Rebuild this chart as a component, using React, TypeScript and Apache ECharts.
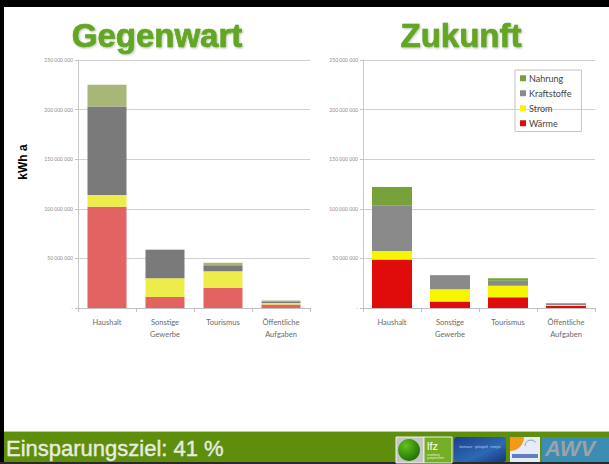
import React, { useEffect, useRef } from 'react';
import * as echarts from 'echarts';

// Categories and values (million kWh per year)
const categories = ['Haushalt', 'Sonstige\nGewerbe', 'Tourismus', 'Öffentliche\nAufgaben'];
const seriesNames = ['Wärme', 'Strom', 'Kraftstoffe', 'Nahrung'];
const legendOrder = ['Nahrung', 'Kraftstoffe', 'Strom', 'Wärme'];
const yMaxMio = 250;
const yStepMio = 50;

// Gegenwart
const nowWaerme = [102, 11, 20.5, 3.5];
const nowStrom = [12, 19, 16.5, 1.5];
const nowKraftstoffe = [89, 28.5, 6, 1];
const nowNahrung = [22, 0.5, 2.5, 1.5];

// Zukunft
const futWaerme = [49, 6.5, 10.8, 2];
const futStrom = [8.5, 12.5, 11.7, 1];
const futKraftstoffe = [45.5, 14, 5, 1];
const futNahrung = [19, 0.3, 2.4, 0.7];

const nowColors = ['#e36262', '#ecec4a', '#7a7a7a', '#a8b678'];
const futColors = ['#e00c0c', '#f6f600', '#8a8a8a', '#77a23a'];

const FONT = 'Lato, "Open Sans", sans-serif';

function fmtTick(v: number) {
  return v === 0 ? '-' : `${v} 000 000`;
}

export default function App() {
  const ref = useRef<HTMLDivElement>(null);
  useEffect(() => {
    document.body.style.margin = '0';
    const chart = echarts.init(ref.current!, null, { renderer: 'svg' });

    const yAxisBase = (gi: number) => ({
      type: 'value',
      gridIndex: gi,
      min: 0,
      max: yMaxMio,
      interval: yStepMio,
      axisLine: { show: true, lineStyle: { color: '#c8c8c8', width: 1 } },
      axisTick: { show: true, length: 3, lineStyle: { color: '#c0c0c0' } },
      axisLabel: { fontSize: 5, color: '#8c8c8c', margin: 5, fontFamily: FONT, formatter: fmtTick },
      splitLine: { show: true, lineStyle: { color: '#d0d0d0', width: 1 } },
    });
    const xAxisBase = (gi: number) => ({
      type: 'category',
      gridIndex: gi,
      data: categories,
      axisLine: { show: true, lineStyle: { color: '#c0c0c0', width: 1 } },
      axisTick: { show: true, length: 4, alignWithLabel: false, lineStyle: { color: '#c0c0c0' } },
      axisLabel: { fontSize: 7.5, color: '#6a6a6a', lineHeight: 12, margin: 8, interval: 0, fontFamily: FONT },
    });

    const nowData = [nowWaerme, nowStrom, nowKraftstoffe, nowNahrung];
    const futData = [futWaerme, futStrom, futKraftstoffe, futNahrung];

    const series: any[] = [];
    seriesNames.forEach((n, i) => {
      series.push({
        name: n,
        type: 'bar',
        stack: 'now',
        xAxisIndex: 0,
        yAxisIndex: 0,
        barWidth: 39,
        data: nowData[i],
        itemStyle: { color: nowColors[i] },
      });
    });
    seriesNames.forEach((n, i) => {
      series.push({
        name: n,
        type: 'bar',
        stack: 'fut',
        xAxisIndex: 1,
        yAxisIndex: 1,
        barWidth: 40,
        data: futData[i],
        itemStyle: { color: futColors[i] },
      });
    });

    const titleStyle = (text: string) => ({
      text,
      fill: '#63a622',
      font: 'bold 33px "Liberation Sans", Arial, sans-serif',
      align: 'center',
      verticalAlign: 'middle',
      stroke: '#58961c',
      lineWidth: 0.6,
      textShadowColor: 'rgba(40,70,10,0.35)',
      textShadowBlur: 2,
      textShadowOffsetX: 1,
      textShadowOffsetY: 1,
    });

    const option: any = {
      animation: false,
      backgroundColor: '#ffffff',
      grid: [
        { left: 78, right: 299, top: 60, bottom: 156 },
        { left: 363, right: 14, top: 60, bottom: 156 },
      ],
      xAxis: [xAxisBase(0), xAxisBase(1)],
      yAxis: [yAxisBase(0), yAxisBase(1)],
      legend: {
        orient: 'vertical',
        left: 515,
        top: 70,
        selectedMode: false,
        icon: 'rect',
        itemWidth: 6,
        itemHeight: 6,
        itemGap: 4.5,
        padding: [3, 10, 3, 5],
        borderColor: '#c4c4c4',
        borderWidth: 1,
        textStyle: { fontSize: 9, color: '#444', fontFamily: FONT, lineHeight: 10.5, padding: [0, 0, 0, -2] },
        data: legendOrder.map((n) => ({
          name: n,
          itemStyle: { color: futColors[seriesNames.indexOf(n)] },
        })),
      },
      series,
      graphic: [
        // frame
        { type: 'rect', shape: { x: 0, y: 0, width: 609, height: 7 }, style: { fill: '#000' }, silent: true },
        { type: 'rect', shape: { x: 0, y: 0, width: 4, height: 464 }, style: { fill: '#000' }, silent: true },
        // titles
        { type: 'text', x: 157, y: 35, style: titleStyle('Gegenwart') },
        { type: 'text', x: 461, y: 35, style: titleStyle('Zukunft') },
        // y axis name
        {
          type: 'text',
          x: 23,
          y: 162,
          rotation: Math.PI / 2,
          style: {
            text: 'kWh a',
            fill: '#000',
            font: 'bold 12px "Liberation Sans", Arial, sans-serif',
            align: 'center',
            verticalAlign: 'middle',
          },
        },
        // bottom bar
        { type: 'rect', shape: { x: 4, y: 431, width: 605, height: 1 }, style: { fill: '#b9cc95' }, silent: true },
        { type: 'rect', shape: { x: 4, y: 432, width: 605, height: 30 }, style: { fill: '#5e8e0c' }, silent: true },
        { type: 'rect', shape: { x: 0, y: 462, width: 609, height: 2 }, style: { fill: '#2a2a2a' }, silent: true },
        {
          type: 'text',
          x: 6,
          y: 448,
          style: {
            text: 'Einsparungsziel: 41 %',
            fill: '#e8ece0',
            font: '22px "Liberation Sans", Arial, sans-serif',
            align: 'left',
            verticalAlign: 'middle',
            stroke: '#e8ece0',
            lineWidth: 0.4,
          },
        },
        // logos
        { type: 'rect', shape: { x: 396, y: 437, width: 28, height: 26 }, style: { fill: '#c6c6c6', stroke: '#f0f0f0', lineWidth: 1 } },
        {
          type: 'circle',
          shape: { cx: 409, cy: 450, r: 11 },
          style: {
            fill: new echarts.graphic.RadialGradient(0.35, 0.3, 0.8, [
              { offset: 0, color: '#5fc21f' },
              { offset: 1, color: '#1d6a00' },
            ]),
          },
        },
        { type: 'rect', shape: { x: 424, y: 437, width: 28, height: 26 }, style: { fill: '#74ad26', stroke: '#f0f0f0', lineWidth: 1 } },
        { type: 'text', x: 427, y: 446, style: { text: 'lfz', fill: '#ffffff', font: '11px "Liberation Sans", Arial, sans-serif', verticalAlign: 'middle' } },
        { type: 'text', x: 427, y: 456, style: { text: 'raumberg\ngumpenstein', fill: '#e8f0d8', font: '3px "Liberation Sans", Arial, sans-serif', verticalAlign: 'middle', lineHeight: 3 } },
        {
          type: 'rect',
          shape: { x: 454, y: 437, width: 52, height: 25, r: 3 },
          style: {
            fill: new echarts.graphic.LinearGradient(0, 0, 1, 1, [
              { offset: 0, color: '#1b3f8c' },
              { offset: 0.6, color: '#2e68b4' },
              { offset: 1, color: '#17357a' },
            ]),
          },
        },
        { type: 'text', x: 480, y: 447, style: { text: 'biomasse · gekoppelt · energie', fill: '#b8d0f0', font: '3px "Liberation Sans", Arial, sans-serif', align: 'center', verticalAlign: 'middle' } },
        { type: 'rect', shape: { x: 510, y: 437, width: 30, height: 25 }, style: { fill: '#e6ebf5' } },
        {
          type: 'sector',
          shape: { cx: 510, cy: 437, r0: 0, r: 14, startAngle: 0, endAngle: Math.PI / 2 },
          style: { fill: '#f39a1a' },
        },
        { type: 'arc', shape: { cx: 531, cy: 446, r: 6, startAngle: Math.PI, endAngle: Math.PI * 1.8 }, style: { stroke: '#8aa0c0', lineWidth: 1, fill: 'none' } },
        { type: 'rect', shape: { x: 512, y: 454, width: 26, height: 4 }, style: { fill: '#5d7fc4' } },
        { type: 'rect', shape: { x: 542, y: 437, width: 67, height: 25 }, style: { fill: '#3d8db3' } },
        {
          type: 'text',
          x: 545,
          y: 448,
          style: {
            text: 'AWV',
            fill: '#9aa3aa',
            font: 'italic bold 22px "Liberation Sans", Arial, sans-serif',
            verticalAlign: 'middle',
          },
        },
      ],
    };
    chart.setOption(option);
    return () => chart.dispose();
  }, []);
  return <div ref={ref} style={{ width: 609, height: 464 }} />;
}
